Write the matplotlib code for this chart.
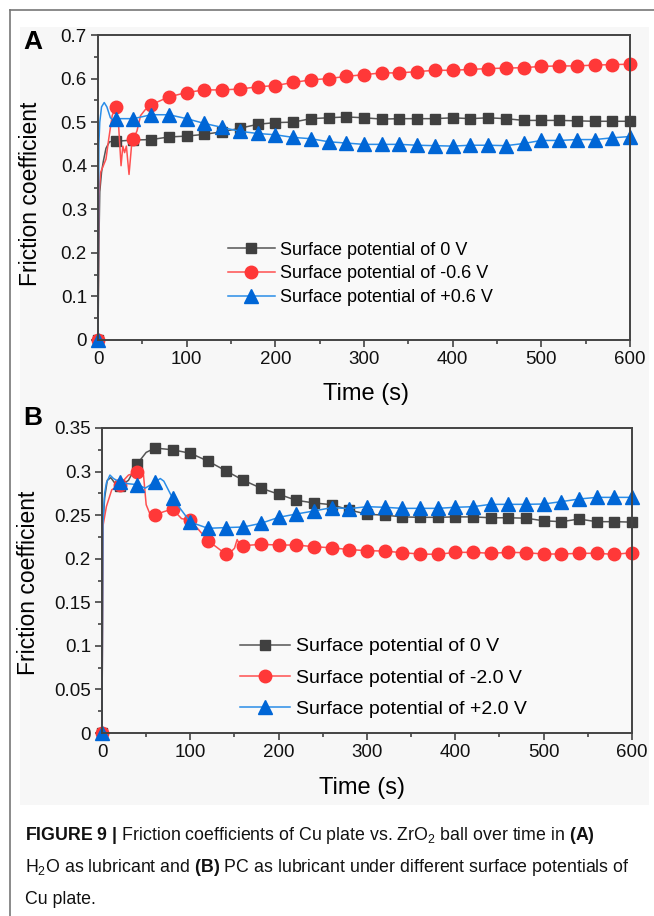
import matplotlib
matplotlib.use("Agg")
import matplotlib.pyplot as plt
from matplotlib import font_manager
from matplotlib.lines import Line2D
from matplotlib.patches import Rectangle

# --- data ---
# panel A (H2O)
tA_black = [0, 1, 2, 4, 6, 9, 13] + list(range(20, 601, 20))
vA_black = [0, 0.22, 0.34, 0.385, 0.41, 0.44, 0.455,
            0.456, 0.459, 0.460, 0.466, 0.468, 0.472, 0.478, 0.486, 0.495, 0.499,
            0.500, 0.508, 0.510, 0.512, 0.510, 0.507, 0.508, 0.508, 0.508, 0.510,
            0.508, 0.510, 0.508, 0.504, 0.504, 0.504, 0.503, 0.502, 0.502, 0.502]

tA_red = [0, 1, 3, 6, 9, 12, 16, 20, 23, 26, 28, 30, 32, 35, 38, 40, 44, 48, 53] + list(range(60, 601, 20))
vA_red = [0, 0.33, 0.385, 0.40, 0.415, 0.46, 0.515,
          0.535, 0.50, 0.40, 0.445, 0.43, 0.445, 0.38, 0.45, 0.462, 0.48, 0.515, 0.528,
          0.540, 0.558, 0.568, 0.574, 0.574, 0.576, 0.581, 0.584, 0.591, 0.597,
          0.600, 0.605, 0.609, 0.613, 0.613, 0.616, 0.619, 0.619, 0.621, 0.623,
          0.624, 0.625, 0.628, 0.629, 0.629, 0.631, 0.632, 0.633]

tA_blue = [0, 1, 2, 4, 7, 10, 14, 17] + list(range(20, 601, 20))
vA_blue = [0, 0.45, 0.50, 0.535, 0.545, 0.535, 0.51, 0.505,
           0.508, 0.508, 0.517, 0.517, 0.508, 0.497, 0.488, 0.479, 0.474, 0.471,
           0.465, 0.462, 0.455, 0.452, 0.449, 0.449, 0.449, 0.447, 0.446, 0.445,
           0.447, 0.447, 0.446, 0.451, 0.458, 0.458, 0.460, 0.460, 0.464, 0.467]

# panel B (PC)
tB_black = [0, 1, 3, 6, 10, 15, 20, 30, 40, 50] + list(range(60, 601, 20))
vB_black = [0, 0.24, 0.27, 0.29, 0.293, 0.286, 0.283, 0.29, 0.309, 0.322,
            0.327, 0.325, 0.321, 0.312, 0.301, 0.290, 0.281, 0.274, 0.267, 0.264,
            0.262, 0.256, 0.251, 0.250, 0.248, 0.2475, 0.2475, 0.248, 0.248, 0.247,
            0.247, 0.2465, 0.2435, 0.2425, 0.2455, 0.2425, 0.2425, 0.242]

tB_red = [0, 1, 5, 11, 20, 30, 40, 47, 50, 54, 60, 70, 80, 90, 100, 120, 140,
          146, 150, 153, 156] + list(range(160, 601, 20))
vB_red = [0, 0.237, 0.26, 0.279, 0.285, 0.296, 0.299, 0.296, 0.262, 0.252,
          0.250, 0.254, 0.257, 0.246, 0.2444, 0.2207, 0.2054,
          0.208, 0.212, 0.222, 0.216,
          0.215, 0.2165, 0.2157, 0.2157, 0.2138, 0.2125, 0.2105, 0.2092, 0.2088,
          0.2069, 0.2054, 0.205, 0.2073, 0.2073, 0.2062, 0.2073, 0.2069, 0.2054,
          0.2054, 0.2062, 0.2062, 0.205, 0.2069]

tB_blue = [0, 1, 3, 5, 9, 13, 20, 30, 40, 49, 60, 66, 70] + list(range(80, 601, 20))
vB_blue = [0, 0.24, 0.275, 0.287, 0.296, 0.292, 0.288, 0.286, 0.285, 0.281,
           0.288, 0.292, 0.289,
           0.2693, 0.242, 0.2349, 0.2357, 0.2364, 0.2406, 0.2475, 0.2513, 0.2548,
           0.2586, 0.2575, 0.2597, 0.259, 0.2578, 0.2578, 0.2578, 0.259, 0.2597,
           0.2624, 0.2624, 0.2624, 0.2628, 0.2655, 0.2685, 0.2704, 0.2704, 0.2704]

labels_A = ["Surface potential of 0 V", "Surface potential of -0.6 V", "Surface potential of +0.6 V"]
labels_B = ["Surface potential of 0 V", "Surface potential of -2.0 V", "Surface potential of +2.0 V"]

yticks_A = [0, 0.1, 0.2, 0.3, 0.4, 0.5, 0.6, 0.7]
ytick_labels_A = ["0", "0.1", "0.2", "0.3", "0.4", "0.5", "0.6", "0.7"]
yticks_B = [0, 0.05, 0.1, 0.15, 0.2, 0.25, 0.3, 0.35]
ytick_labels_B = ["0", "0.05", "0.1", "0.15", "0.2", "0.25", "0.3", "0.35"]
xticks = [0, 100, 200, 300, 400, 500, 600]

# --- styling ---
names = {f.name for f in font_manager.fontManager.ttflist}
NARROW = "Liberation Sans Narrow" if "Liberation Sans Narrow" in names else None
plt.rcParams["font.family"] = ["Liberation Sans", "DejaVu Sans"]
plt.rcParams["mathtext.fontset"] = "custom"
cap_font = NARROW or "Liberation Sans"
plt.rcParams["mathtext.rm"] = cap_font
plt.rcParams["mathtext.bf"] = cap_font + ":bold"
plt.rcParams["mathtext.it"] = cap_font + ":italic"

STYLE = {
    "black": dict(color="#555555", marker="s", mfc="#404040", mec="#404040", ms=7.5),
    "red": dict(color="#ff5050", marker="o", mfc="#ff3838", mec="#ff3838", ms=9),
    "blue": dict(color="#2a8de8", marker="^", mfc="#0066d6", mec="#0066d6", ms=9.5),
}
SPINE = "#444444"

W, H = 654, 916
fig = plt.figure(figsize=(W / 100, H / 100), dpi=100)

def px(x0, y0, x1, y1):
    return [x0 / W, 1 - y1 / H, (x1 - x0) / W, (y1 - y0) / H]

# light grey screenshot background and outer frame
fig.add_artist(Rectangle((20 / W, 1 - 805 / H), 629 / W, 778 / H, transform=fig.transFigure,
                         facecolor="#f7f7f7", edgecolor="none", zorder=-5))
fig.add_artist(Line2D([10 / W, 1], [1 - 10 / H, 1 - 10 / H], color="#777777", lw=1.2))
fig.add_artist(Line2D([10 / W, 10 / W], [1 - 10 / H, 0], color="#777777", lw=1.2))


def draw_panel(ax, series, labels, yticks, ylabels, ymax, leg_anchor, leg_fs, leg_space):
    handles = []
    for (t, v), key, lab in zip(series, ["black", "red", "blue"], labels):
        st = STYLE[key]
        marks = [i for i, tt in enumerate(t) if tt % 20 == 0]
        ln, = ax.plot(t, v, lw=1.1, markevery=marks, clip_on=False, label=lab, **st)
        handles.append(ln)
    ax.set_xlim(0, 600)
    ax.set_ylim(0, ymax)
    ax.set_facecolor("#f9f9f9")
    ax.set_xticks(xticks)
    ax.set_xticklabels([str(x) for x in xticks])
    ax.set_xticks(range(50, 600, 100), minor=True)
    ax.set_yticks(yticks)
    ax.set_yticklabels(ylabels)
    ax.set_yticks([(a + b) / 2 for a, b in zip(yticks[:-1], yticks[1:])], minor=True)
    ax.tick_params(which="both", direction="out", color=SPINE, width=1.2,
                   labelsize=13.5, labelcolor="#111111", top=False, right=False)
    ax.tick_params(which="major", length=5, pad=3)
    ax.tick_params(which="minor", length=3)
    for s in ax.spines.values():
        s.set_color(SPINE)
        s.set_linewidth(1.4)
    ax.legend(handles=handles, loc="upper left", bbox_to_anchor=leg_anchor, frameon=False,
              fontsize=leg_fs, handlelength=2.6, handletextpad=0.3, labelspacing=leg_space,
              borderpad=0, borderaxespad=0)


axA = fig.add_axes(px(98, 35, 630, 340))
draw_panel(axA, [(tA_black, vA_black), (tA_red, vA_red), (tA_blue, vA_blue)], labels_A,
           yticks_A, ytick_labels_A, 0.7, (0.244, 0.322), 13, 0.37)

axB = fig.add_axes(px(102, 428, 632, 733))
draw_panel(axB, [(tB_black, vB_black), (tB_red, vB_red), (tB_blue, vB_blue)], labels_B,
           yticks_B, ytick_labels_B, 0.35, (0.26, 0.312), 14, 0.7)

# axis titles and panel letters
fig.text(33 / W, 1 - 42 / H, "A", fontsize=19, fontweight="bold", ha="center", va="center")
fig.text(33 / W, 1 - 418 / H, "B", fontsize=19, fontweight="bold", ha="center", va="center")
fig.text(31 / W, 1 - 194 / H, "Friction coefficient", fontsize=16.5, rotation=90,
         ha="center", va="center")
fig.text(29 / W, 1 - 583 / H, "Friction coefficient", fontsize=16.5, rotation=90,
         ha="center", va="center")
fig.text(366 / W, 1 - 394 / H, "Time (s)", fontsize=17, ha="center", va="center")
fig.text(362 / W, 1 - 788 / H, "Time (s)", fontsize=17, ha="center", va="center")

# caption
cap_fs = 14 if NARROW else 12.8
cap_lines = [
    r"$\mathbf{FIGURE\ 9\ |}$ Friction coefficients of Cu plate vs. ZrO$_2$ ball over time in $\mathbf{(A)}$",
    r"H$_2$O as lubricant and $\mathbf{(B)}$ PC as lubricant under different surface potentials of",
    "Cu plate.",
]
for i, line in enumerate(cap_lines):
    fig.text(25 / W, 1 - (836 + 32 * i) / H, line, fontsize=cap_fs, ha="left", va="center",
             family=cap_font, color="#111111")

fig.savefig("out.png", dpi=100)
